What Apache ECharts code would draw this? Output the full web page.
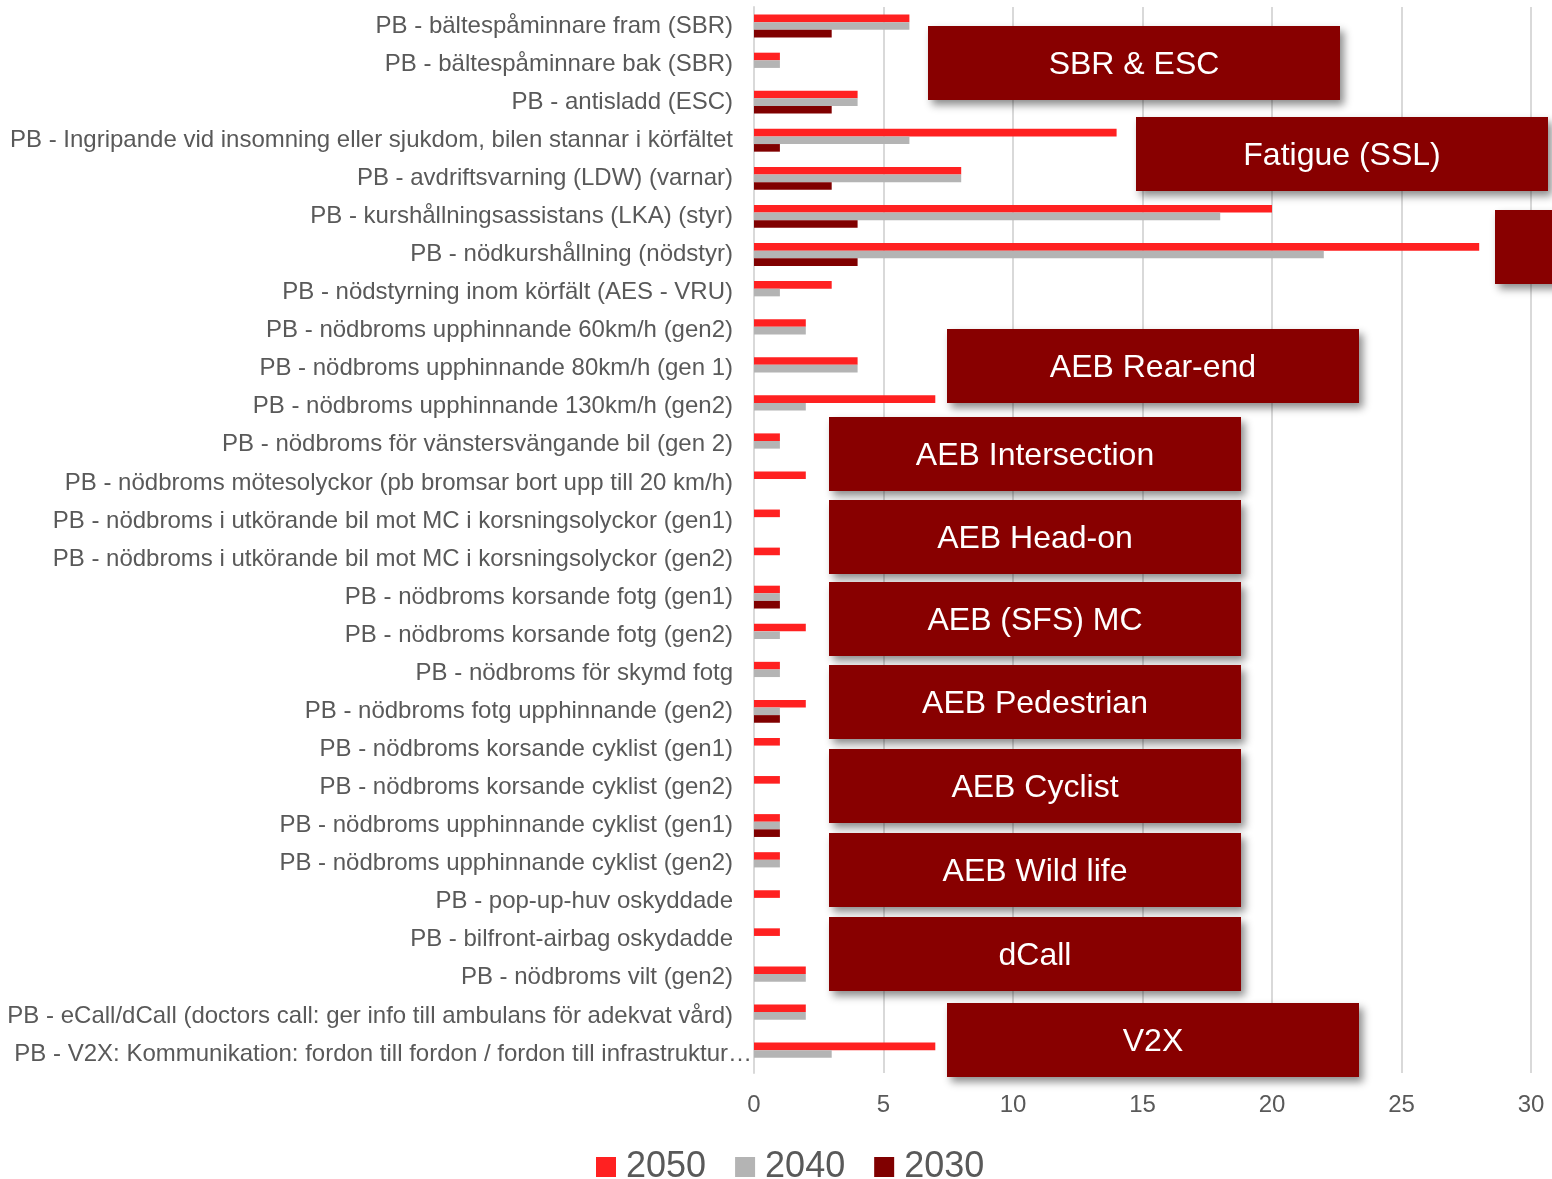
<!DOCTYPE html>
<html>
<head>
<meta charset="utf-8">
<script src="https://cdn.jsdelivr.net/npm/echarts@6/dist/echarts.min.js"></script>
<style>
html,body{margin:0;padding:0;background:#fff;}
#chart{width:1552px;height:1179px;}
</style>
</head>
<body>
<div id="chart"></div>
<script>
const categories = [
  "PB - bältespåminnare fram (SBR)",
  "PB - bältespåminnare bak (SBR)",
  "PB - antisladd (ESC)",
  "PB - Ingripande vid insomning eller sjukdom, bilen stannar i körfältet",
  "PB - avdriftsvarning (LDW) (varnar)",
  "PB - kurshållningsassistans (LKA) (styr)",
  "PB - nödkurshållning (nödstyr)",
  "PB - nödstyrning inom körfält (AES - VRU)",
  "PB - nödbroms upphinnande 60km/h (gen2)",
  "PB - nödbroms upphinnande 80km/h (gen 1)",
  "PB - nödbroms upphinnande 130km/h (gen2)",
  "PB - nödbroms för vänstersvängande bil (gen 2)",
  "PB - nödbroms mötesolyckor (pb bromsar bort upp till 20 km/h)",
  "PB - nödbroms i utkörande bil mot MC i korsningsolyckor (gen1)",
  "PB - nödbroms i utkörande bil mot MC i korsningsolyckor (gen2)",
  "PB - nödbroms korsande fotg (gen1)",
  "PB - nödbroms korsande fotg (gen2)",
  "PB - nödbroms för skymd fotg",
  "PB - nödbroms fotg upphinnande (gen2)",
  "PB - nödbroms korsande cyklist (gen1)",
  "PB - nödbroms korsande cyklist (gen2)",
  "PB - nödbroms upphinnande cyklist (gen1)",
  "PB - nödbroms upphinnande cyklist (gen2)",
  "PB - pop-up-huv oskyddade",
  "PB - bilfront-airbag oskydadde",
  "PB - nödbroms vilt (gen2)",
  "PB - eCall/dCall (doctors call: ger info till ambulans för adekvat vård)",
  "PB - V2X: Kommunikation: fordon till fordon / fordon till infrastruktur…"
];
const values2050 = [6,1,4,14,8,20,28,3,2,4,7,1,2,1,1,1,2,1,2,1,1,1,1,1,1,2,2,7];
const values2040 = [6,1,4,6,8,18,22,1,2,4,2,1,0,0,0,1,1,1,1,0,0,1,1,0,0,2,2,3];
const values2030 = [3,0,3,1,3,4,4,0,0,0,0,0,0,0,0,1,0,0,1,0,0,1,0,0,0,0,0,0];
const seriesNames = ["2050","2040","2030"];
const xTicks = [0,5,10,15,20,25,30];
const boxLabels = ["SBR & ESC","Fatigue (SSL)","","AEB Rear-end","AEB Intersection","AEB Head-on","AEB (SFS) MC","AEB Pedestrian","AEB Cyclist","AEB Wild life","dCall","V2X"];
const boxPos = [[928,26],[1136,117],[1495,210],[947,329],[829,417],[829,500],[829,582],[829,665],[829,749],[829,833],[829,917],[947,1003]];

const chart = echarts.init(document.getElementById('chart'), null, {renderer:'canvas'});
const FONT = '"Liberation Sans", Arial, sans-serif';
const colors = ['#ff2121','#b4b4b4','#800000'];

const graphics = boxLabels.map((t,i)=>({
  type:'group',
  x: boxPos[i][0], y: boxPos[i][1],
  z:100,
  children:[
    {type:'rect', z:100, shape:{x:0, y:0, width:412, height:74},
     style:{fill:'#880000', shadowBlur:8, shadowOffsetX:4, shadowOffsetY:5, shadowColor:'rgba(0,0,0,0.45)'}},
    {type:'text', z:101, x:206, y:39,
     style:{text:t, fill:'#ffffff', fontSize:32, fontFamily:FONT, align:'center', verticalAlign:'middle'}}
  ]
}));

const yData = categories.map(c => c.endsWith('…') ? {value:c, textStyle:{padding:[0,-19,0,0]}} : c);

chart.setOption({
  animation:false,
  color: colors,
  grid:{left:754, right:21, top:7, bottom:106, containLabel:false, outerBoundsMode:'none'},
  legend:{
    data: seriesNames,
    bottom: -11,
    left: 591,
    itemWidth:20, itemHeight:20, itemGap:29,
    icon:'rect',
    textStyle:{fontSize:36, color:'#595959', fontFamily:FONT, padding:[0,0,0,5]}
  },
  xAxis:{
    type:'value', min:0, max:30, interval:5,
    axisLine:{show:false}, axisTick:{show:false},
    splitLine:{show:true, lineStyle:{color:'#d9d9d9', width:2}},
    axisLabel:{fontSize:24, color:'#595959', fontFamily:FONT, margin:20,
      formatter: v => xTicks.includes(v) ? String(v) : ''}
  },
  yAxis:{
    type:'category', data: yData, inverse:true,
    axisLine:{show:true, lineStyle:{color:'#d9d9d9', width:2}},
    axisTick:{show:false},
    axisLabel:{fontSize:24, color:'#595959', fontFamily:FONT, margin:21}
  },
  series:[
    {name:seriesNames[0], type:'bar', data:values2050, barGap:'0%', barCategoryGap:'40%'},
    {name:seriesNames[1], type:'bar', data:values2040, barGap:'0%', barCategoryGap:'40%'},
    {name:seriesNames[2], type:'bar', data:values2030, barGap:'0%', barCategoryGap:'40%'}
  ],
  graphic: graphics
});
</script>
</body>
</html>
